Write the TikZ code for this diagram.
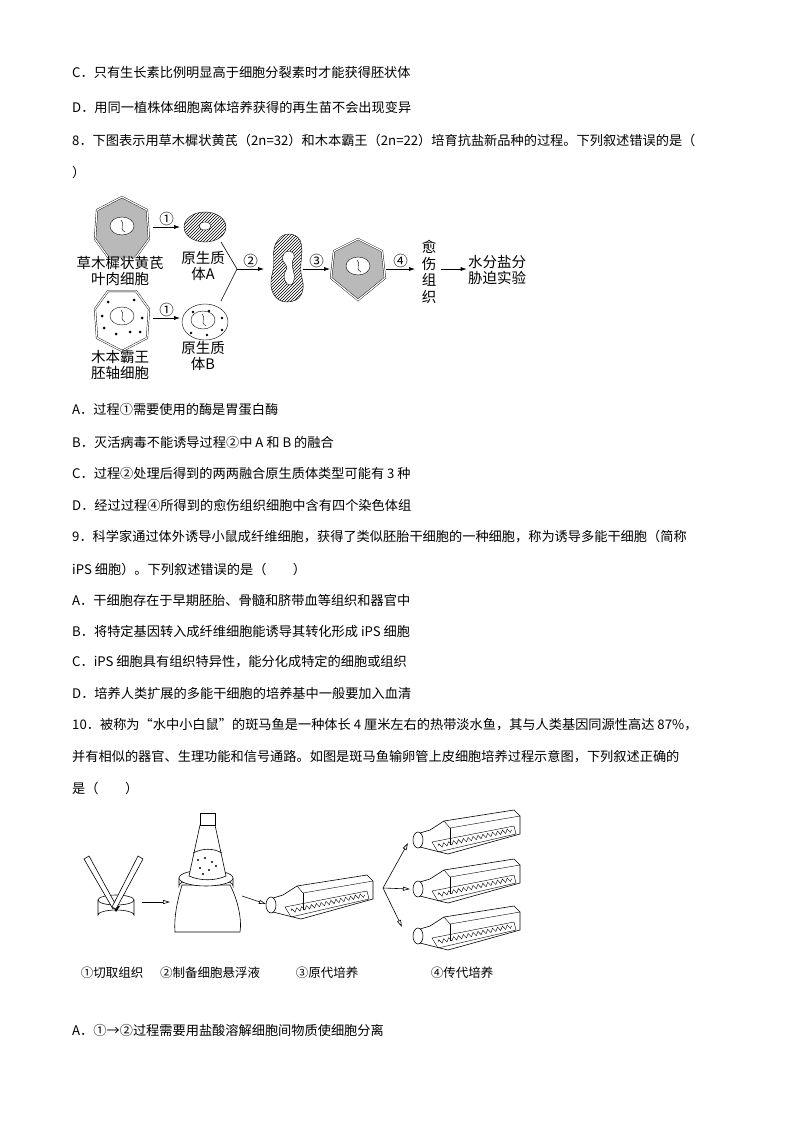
\documentclass[tikz,border=0pt]{standalone}
\usepackage{fontspec}
\setmainfont{Noto Sans CJK SC}
\usetikzlibrary{patterns,arrows.meta,decorations.pathmorphing}
\tikzset{
  txt/.style={anchor=west, inner sep=0pt, font=\fontsize{13.2}{16}\selectfont},
  lbl/.style={align=center, inner sep=0pt, font=\fontsize{14.5}{16.5}\selectfont},
  steplabel/.style={inner sep=0pt, font=\fontsize{12.5}{15}\selectfont},
  step arrow/.style={-{Latex[length=6pt,width=4pt]}, semithick},
  open arrow/.style={-{Triangle[open,length=7pt,width=4pt]}, semithick},
  nucleus/.pic={
    \draw[fill=white] (0,0) ellipse (12 and 9);
    \draw[thin] (-1,-6) .. controls (4,-2) and (-4,2) .. (3,6);
  },
  bottle/.pic={
    \draw[semithick, fill=white] (0,0) ellipse (5 and 8);
    \draw[semithick] (2,-7) -- (12,-10) -- (26,-19) -- (96,-30) -- (102,-24) -- (102,-6) -- (30,14) -- (10,9) -- (2,7);
    \draw (26,-19) -- (32,-12) -- (102,-24);
    \draw (32,-12) -- (32,5);
    \draw (14,2) -- (96,-14) -- (98,-6) -- (20,12) -- cycle;
    \draw[decorate, decoration={zigzag, segment length=5pt, amplitude=2pt}] (20,6) -- (94,-10);
  }
}
\begin{document}
\begin{tikzpicture}[x=1pt, y=-1pt]
  \useasboundingbox[fill=white] (0,0) rectangle (794,1123);

  % 题干文字
  \node[txt] (c7) at (72,73) {C．只有生长素比例明显高于细胞分裂素时才能获得胚状体};
  \node[txt] (d7) at (72,107) {D．用同一植株体细胞离体培养获得的再生苗不会出现变异};
  \node[txt] (q8) at (72,140) {8．下图表示用草木樨状黄芪（2n=32）和木本霸王（2n=22）培育抗盐新品种的过程。下列叙述错误的是（};
  \node[txt] (q8b) at (72,172) {）};

  % 第8题图
  \pic at (122,228) {code={\draw[double, double distance=1.2pt, fill=gray!55] (0,-31)--(25,-18)--(27,11)--(14,29)--(-14,29)--(-27,11)--(-25,-18)--cycle;}};
  \pic at (122,226) {nucleus};
  \pic at (122,320) {code={\draw[double, double distance=1.2pt, fill=white] (-14,-29)--(14,-29)--(27,-11)--(25,18)--(0,31)--(-25,18)--(-27,-11)--cycle;}};
  \pic at (122,316) {nucleus};
  \foreach \dx/\dy in {-14/-18,12/-20,-20/-4,20/-2,-6/14,8/12,-18/8,18/12}
    \fill (122+\dx,320+\dy) circle (1.5);
  \node[lbl] (leafcell) at (120,271) {草木樨状黄芪\\叶肉细胞};
  \node[lbl] (axiscell) at (120,365) {木本霸王\\胚轴细胞};

  \coordinate (a1s) at (153,227); \coordinate (a1e) at (180,227);
  \coordinate (b1s) at (153,318); \coordinate (b1e) at (180,318);
  \draw[step arrow] (a1s) -- node[above=1pt, lbl] {①} (a1e);
  \draw[step arrow] (b1s) -- node[above=1pt, lbl] {①} (b1e);

  \draw[pattern=north east lines] (205,227) ellipse (21 and 15);
  \draw[fill=white] (205,226) ellipse (6 and 4);
  \node[lbl] (protoA) at (203,266) {原生质\\体A};
  \draw[fill=white] (205,322) ellipse (23 and 18);
  \pic at (203,320) {nucleus};
  \foreach \dx/\dy in {-12/-10,4/-11,17/-4,17/8,-14/11,2/13}
    \fill (205+\dx,322+\dy) circle (1.3);
  \node[lbl] (protoB) at (203,356) {原生质\\体B};

  \coordinate (mergeA) at (221,242); \coordinate (mergeB) at (221,301);
  \coordinate (merge) at (237,269); \coordinate (fuse) at (264,269);
  \draw[semithick] (mergeA) -- (merge) -- (mergeB);
  \draw[step arrow] (merge) -- node[above=1pt, lbl] {②} (fuse);

  \draw[pattern=north east lines] (278,240) .. controls (270,250) and (276,262) .. (272,275)
     .. controls (268,290) and (275,302) .. (287,302) .. controls (300,302) and (306,292) .. (302,278)
     .. controls (298,265) and (305,252) .. (300,240) .. controls (295,232) and (283,232) .. (278,240) -- cycle;
  \draw[fill=white] (283,256) .. controls (280,264) and (291,264) .. (285,272)
     .. controls (281,280) and (291,292) .. (294,280) .. controls (296,272) and (289,266) .. (294,258)
     .. controls (296,250) and (285,248) .. (283,256) -- cycle;

  \coordinate (s3) at (303,269); \coordinate (e3) at (330,269);
  \draw[step arrow] (s3) -- node[above=1pt, lbl] {③} (e3);
  \pic at (358,268) {code={\draw[double, double distance=1.2pt, fill=gray!55] (0,-29)--(24,-17)--(27,10)--(0,32)--(-27,10)--(-24,-17)--cycle;}};
  \pic at (358,266) {nucleus};

  \coordinate (s4) at (386,269); \coordinate (e4) at (415,269);
  \draw[step arrow] (s4) -- node[above=1pt, lbl] {④} (e4);
  \node[lbl, text width=15pt] (callus) at (429,272) {愈\\伤\\组\\织};
  \draw[step arrow] (callus.east |- e4) ++(4,0) coordinate (s5) -- ++(26,0) coordinate (e5);
  \node[lbl, anchor=west] (stress) at (468,270) {水分盐分\\胁迫实验};

  % 选项
  \node[txt] (a8) at (72,410) {A．过程①需要使用的酶是胃蛋白酶};
  \node[txt] (b8) at (72,442) {B．灭活病毒不能诱导过程②中 A 和 B 的融合};
  \node[txt] (c8) at (72,473) {C．过程②处理后得到的两两融合原生质体类型可能有 3 种};
  \node[txt] (d8) at (72,505) {D．经过过程④所得到的愈伤组织细胞中含有四个染色体组};
  \node[txt] (q9) at (72,537) {9．科学家通过体外诱导小鼠成纤维细胞，获得了类似胚胎干细胞的一种细胞，称为诱导多能干细胞（简称};
  \node[txt] (q9b) at (72,569) {iPS 细胞）。下列叙述错误的是（\quad\quad ）};
  \node[txt] (a9) at (72,600) {A．干细胞存在于早期胚胎、骨髓和脐带血等组织和器官中};
  \node[txt] (b9) at (72,631) {B．将特定基因转入成纤维细胞能诱导其转化形成 iPS 细胞};
  \node[txt] (c9) at (72,662) {C．iPS 细胞具有组织特异性，能分化成特定的细胞或组织};
  \node[txt] (d9) at (72,693) {D．培养人类扩展的多能干细胞的培养基中一般要加入血清};
  \node[txt] (q10) at (72,725) {10．被称为“水中小白鼠”的斑马鱼是一种体长 4 厘米左右的热带淡水鱼，其与人类基因同源性高达 87\%，};
  \node[txt] (q10b) at (72,757) {并有相似的器官、生理功能和信号通路。如图是斑马鱼输卵管上皮细胞培养过程示意图，下列叙述正确的};
  \node[txt] (q10c) at (72,788) {是（\quad\quad ）};

  % 第10题图
  \draw[semithick, fill=white] (98,900) -- (98,915) arc[start angle=180, end angle=360, x radius=18, y radius=5] -- (134,900);
  \draw[semithick] (116,900) ellipse (18 and 5);
  \fill (113,906) -- (120,906) -- (116,912) -- cycle;
  \draw[semithick, fill=white] (84,859) -- (89,856) -- (117,907) -- (113,909) -- cycle;
  \draw[semithick, fill=white] (143,859) -- (138,856) -- (112,907) -- (116,909) -- cycle;
  \coordinate (s1) at (142,902); \coordinate (e1) at (170,902);
  \draw[open arrow] (s1) -- (e1);

  \draw[semithick, fill=white] (182,885) .. controls (176,905) and (174,920) .. (175,932) -- (240,932)
     .. controls (242,920) and (238,900) .. (230,885) -- cycle;
  \draw[semithick, fill=white] (179,878) -- (179,886) arc[start angle=180, end angle=360, x radius=27, y radius=8] -- (233,878);
  \draw[semithick, fill=white] (206,878) ellipse (27 and 8);
  \draw[semithick, fill=white] (200,825) -- (189,876) .. controls (200,881) and (215,881) .. (226,876) -- (215,825) -- cycle;
  \draw[semithick] (193,853) .. controls (203,848) and (213,848) .. (222,853);
  \foreach \px/\py in {198/860,205/858,212/862,200/868,209/870,216/866,203/874}
    \fill (\px,\py) circle (1.2);
  \draw[semithick, fill=white] (200,813) rectangle (215,825);
  \coordinate (s2) at (242,896); \coordinate (e2) at (266,904);
  \draw[open arrow] (s2) -- (e2);

  \pic at (271,905) {bottle};
  \pic at (418,840) {bottle};
  \pic at (418,889) {bottle};
  \pic at (418,936) {bottle};
  \coordinate (fork) at (383,888);
  \coordinate (t1) at (408,843); \coordinate (t2) at (410,889); \coordinate (t3) at (402,927);
  \draw[open arrow] (fork) -- (t1);
  \draw[open arrow] (fork) -- (t2);
  \draw[open arrow] (fork) -- (t3);

  \node[steplabel] (cut) at (112,973) {①切取组织};
  \node[steplabel] (susp) at (210,973) {②制备细胞悬浮液};
  \node[steplabel] (prim) at (327,973) {③原代培养};
  \node[steplabel] (pass) at (462,973) {④传代培养};

  \node[txt] (a10) at (72,1030) {A．①→②过程需要用盐酸溶解细胞间物质使细胞分离};
\end{tikzpicture}
\end{document}
